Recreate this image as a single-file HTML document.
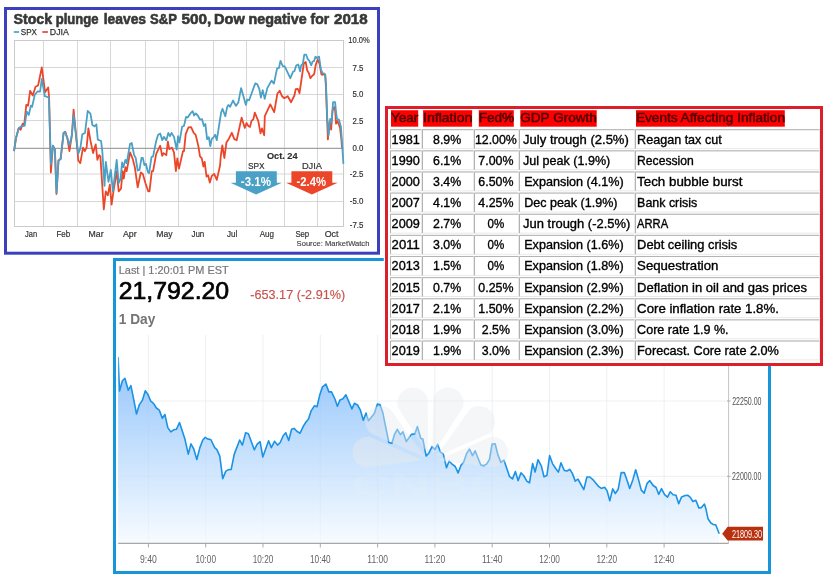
<!DOCTYPE html>
<html lang="en">
<head>
<meta charset="utf-8">
<title>Stock plunge leaves S&amp;P 500, Dow negative for 2018</title>
<style>
html,body{margin:0;padding:0;background:#fff;}
body{width:827px;height:582px;overflow:hidden;font-family:"Liberation Sans",sans-serif;}
svg{display:block;}
</style>
</head>
<body>
<svg width="827" height="582" viewBox="0 0 827 582" font-family="'Liberation Sans', sans-serif">
<g id="cnbc-chart">
<rect x="114.5" y="259.5" width="655" height="313" fill="#fff" stroke="#1696d8" stroke-width="3"/>
<defs><clipPath id="pc"><rect x="118.2" y="330" width="611" height="214"/></clipPath><linearGradient id="ag" x1="0" y1="350" x2="0" y2="543" gradientUnits="userSpaceOnUse"><stop offset="0" stop-color="#8fc2fc"/><stop offset="0.5" stop-color="#c3dffd"/><stop offset="1" stop-color="#f7fbff"/></linearGradient></defs>
<line x1="148.4" y1="335" x2="148.4" y2="543" stroke="#f5f5f5" stroke-width="1"/>
<line x1="205.7" y1="335" x2="205.7" y2="543" stroke="#f5f5f5" stroke-width="1"/>
<line x1="263.0" y1="335" x2="263.0" y2="543" stroke="#f5f5f5" stroke-width="1"/>
<line x1="320.3" y1="335" x2="320.3" y2="543" stroke="#f5f5f5" stroke-width="1"/>
<line x1="377.6" y1="335" x2="377.6" y2="543" stroke="#f5f5f5" stroke-width="1"/>
<line x1="434.9" y1="335" x2="434.9" y2="543" stroke="#f5f5f5" stroke-width="1"/>
<line x1="492.2" y1="335" x2="492.2" y2="543" stroke="#f5f5f5" stroke-width="1"/>
<line x1="549.5" y1="335" x2="549.5" y2="543" stroke="#f5f5f5" stroke-width="1"/>
<line x1="606.8" y1="335" x2="606.8" y2="543" stroke="#f5f5f5" stroke-width="1"/>
<line x1="664.1" y1="335" x2="664.1" y2="543" stroke="#f5f5f5" stroke-width="1"/>
<line x1="118.2" y1="401" x2="728.6" y2="401" stroke="#f5f5f5" stroke-width="1"/>
<line x1="118.2" y1="476.3" x2="728.6" y2="476.3" stroke="#f5f5f5" stroke-width="1"/>
<polygon points="118.1,357.0 119.5,391.0 122.4,380.8 124.9,378.3 128.3,390.2 130.9,385.6 133.4,397.8 136.5,414.0 139.4,404.6 142.3,400.4 145.3,390.7 147.9,394.4 150.8,401.2 153.5,403.3 156.4,408.0 159.3,410.1 162.3,418.2 164.9,414.5 167.8,427.6 170.8,431.9 173.7,429.8 176.4,429.3 179.5,422.5 184.9,439.1 188.3,454.1 190.9,443.9 193.8,449.0 196.8,459.5 199.9,447.6 202.8,440.0 205.3,437.4 207.9,439.1 210.8,439.5 214.7,447.6 216.9,449.7 219.8,456.1 222.7,478.6 225.7,471.4 228.3,469.7 231.2,469.4 234.2,454.4 239.7,440.0 242.4,445.1 245.6,432.7 248.4,433.7 254.3,449.8 257.2,444.2 260.1,441.7 262.8,457.0 268.6,440.8 271.3,447.6 274.5,441.3 277.6,445.1 280.2,442.5 283.2,435.7 285.8,432.7 288.7,440.5 291.6,429.3 294.1,428.4 297.2,431.5 300.1,433.2 303.4,426.2 306.0,422.0 308.5,419.1 311.1,410.9 314.5,405.8 317.0,406.7 319.6,395.6 322.5,386.8 325.9,384.1 328.9,391.9 331.5,391.9 334.9,399.0 337.4,406.3 340.0,399.9 342.9,398.7 345.9,394.8 351.9,408.9 354.4,403.3 357.5,405.0 360.4,410.1 363.3,420.3 366.0,413.1 368.5,420.8 374.3,413.5 377.4,404.1 379.9,404.5 382.8,412.6 388.8,442.4 391.9,443.2 394.4,434.7 397.3,429.3 400.4,434.7 402.9,431.8 406.3,441.5 411.4,434.4 414.8,433.9 417.4,426.6 420.8,438.5 422.8,439.0 426.2,456.0 428.8,453.1 432.0,446.6 434.8,449.5 437.7,444.4 440.5,452.2 443.3,453.9 446.5,467.8 449.1,461.0 452.1,464.1 455.2,466.5 458.1,472.9 461.0,465.3 463.7,461.9 466.6,453.4 469.5,449.1 472.5,455.6 475.1,450.8 480.7,464.8 483.6,465.8 486.6,464.1 489.5,459.3 492.1,444.0 495.1,443.7 498.0,455.1 500.9,462.4 504.0,460.2 506.9,468.7 509.6,476.7 512.5,478.9 515.4,471.6 518.1,480.6 521.0,472.9 523.6,475.5 527.0,481.4 529.5,482.8 532.6,463.6 535.1,472.1 538.0,459.7 541.4,466.1 544.0,476.7 546.9,475.5 549.6,455.6 552.5,463.6 555.9,468.7 558.4,472.1 561.0,462.7 564.3,470.5 567.1,471.0 569.7,469.3 572.2,473.1 575.3,481.1 577.9,479.0 583.8,489.6 586.9,477.0 589.8,477.0 593.2,479.9 598.8,486.7 601.3,488.4 604.6,487.2 607.1,490.9 609.8,500.8 612.7,488.9 615.3,493.5 618.2,489.2 621.2,472.6 624.3,472.6 627.2,480.7 629.7,488.4 632.8,479.9 635.7,469.7 638.6,479.9 641.3,490.1 644.2,493.1 647.1,483.3 649.8,480.7 653.2,485.5 656.1,487.5 658.7,494.3 661.5,488.7 664.6,494.7 667.5,497.2 670.2,491.8 673.1,494.7 676.0,495.2 678.7,503.7 681.6,496.9 685.2,495.5 687.7,495.2 690.3,497.3 692.9,501.5 695.8,500.3 698.9,507.9 701.5,507.6 704.4,504.1 705.8,508.4 708.0,518.7 710.9,523.0 713.5,524.7 715.7,524.7 719.2,533.8 719.2,543.0 118.1,543.0" fill="url(#ag)"/>
<line x1="148.4" y1="335" x2="148.4" y2="543" stroke="#8aa" stroke-opacity="0.06" stroke-width="1"/>
<line x1="205.7" y1="335" x2="205.7" y2="543" stroke="#8aa" stroke-opacity="0.06" stroke-width="1"/>
<line x1="263.0" y1="335" x2="263.0" y2="543" stroke="#8aa" stroke-opacity="0.06" stroke-width="1"/>
<line x1="320.3" y1="335" x2="320.3" y2="543" stroke="#8aa" stroke-opacity="0.06" stroke-width="1"/>
<line x1="377.6" y1="335" x2="377.6" y2="543" stroke="#8aa" stroke-opacity="0.06" stroke-width="1"/>
<line x1="434.9" y1="335" x2="434.9" y2="543" stroke="#8aa" stroke-opacity="0.06" stroke-width="1"/>
<line x1="492.2" y1="335" x2="492.2" y2="543" stroke="#8aa" stroke-opacity="0.06" stroke-width="1"/>
<line x1="549.5" y1="335" x2="549.5" y2="543" stroke="#8aa" stroke-opacity="0.06" stroke-width="1"/>
<line x1="606.8" y1="335" x2="606.8" y2="543" stroke="#8aa" stroke-opacity="0.06" stroke-width="1"/>
<line x1="664.1" y1="335" x2="664.1" y2="543" stroke="#8aa" stroke-opacity="0.06" stroke-width="1"/>
<line x1="118.2" y1="401" x2="728.6" y2="401" stroke="#8aa" stroke-opacity="0.06" stroke-width="1"/>
<line x1="118.2" y1="476.3" x2="728.6" y2="476.3" stroke="#8aa" stroke-opacity="0.06" stroke-width="1"/>
<polyline points="118.1,357.0 119.5,391.0 122.4,380.8 124.9,378.3 128.3,390.2 130.9,385.6 133.4,397.8 136.5,414.0 139.4,404.6 142.3,400.4 145.3,390.7 147.9,394.4 150.8,401.2 153.5,403.3 156.4,408.0 159.3,410.1 162.3,418.2 164.9,414.5 167.8,427.6 170.8,431.9 173.7,429.8 176.4,429.3 179.5,422.5 184.9,439.1 188.3,454.1 190.9,443.9 193.8,449.0 196.8,459.5 199.9,447.6 202.8,440.0 205.3,437.4 207.9,439.1 210.8,439.5 214.7,447.6 216.9,449.7 219.8,456.1 222.7,478.6 225.7,471.4 228.3,469.7 231.2,469.4 234.2,454.4 239.7,440.0 242.4,445.1 245.6,432.7 248.4,433.7 254.3,449.8 257.2,444.2 260.1,441.7 262.8,457.0 268.6,440.8 271.3,447.6 274.5,441.3 277.6,445.1 280.2,442.5 283.2,435.7 285.8,432.7 288.7,440.5 291.6,429.3 294.1,428.4 297.2,431.5 300.1,433.2 303.4,426.2 306.0,422.0 308.5,419.1 311.1,410.9 314.5,405.8 317.0,406.7 319.6,395.6 322.5,386.8 325.9,384.1 328.9,391.9 331.5,391.9 334.9,399.0 337.4,406.3 340.0,399.9 342.9,398.7 345.9,394.8 351.9,408.9 354.4,403.3 357.5,405.0 360.4,410.1 363.3,420.3 366.0,413.1 368.5,420.8 374.3,413.5 377.4,404.1 379.9,404.5 382.8,412.6 388.8,442.4 391.9,443.2 394.4,434.7 397.3,429.3 400.4,434.7 402.9,431.8 406.3,441.5 411.4,434.4 414.8,433.9 417.4,426.6 420.8,438.5 422.8,439.0 426.2,456.0 428.8,453.1 432.0,446.6 434.8,449.5 437.7,444.4 440.5,452.2 443.3,453.9 446.5,467.8 449.1,461.0 452.1,464.1 455.2,466.5 458.1,472.9 461.0,465.3 463.7,461.9 466.6,453.4 469.5,449.1 472.5,455.6 475.1,450.8 480.7,464.8 483.6,465.8 486.6,464.1 489.5,459.3 492.1,444.0 495.1,443.7 498.0,455.1 500.9,462.4 504.0,460.2 506.9,468.7 509.6,476.7 512.5,478.9 515.4,471.6 518.1,480.6 521.0,472.9 523.6,475.5 527.0,481.4 529.5,482.8 532.6,463.6 535.1,472.1 538.0,459.7 541.4,466.1 544.0,476.7 546.9,475.5 549.6,455.6 552.5,463.6 555.9,468.7 558.4,472.1 561.0,462.7 564.3,470.5 567.1,471.0 569.7,469.3 572.2,473.1 575.3,481.1 577.9,479.0 583.8,489.6 586.9,477.0 589.8,477.0 593.2,479.9 598.8,486.7 601.3,488.4 604.6,487.2 607.1,490.9 609.8,500.8 612.7,488.9 615.3,493.5 618.2,489.2 621.2,472.6 624.3,472.6 627.2,480.7 629.7,488.4 632.8,479.9 635.7,469.7 638.6,479.9 641.3,490.1 644.2,493.1 647.1,483.3 649.8,480.7 653.2,485.5 656.1,487.5 658.7,494.3 661.5,488.7 664.6,494.7 667.5,497.2 670.2,491.8 673.1,494.7 676.0,495.2 678.7,503.7 681.6,496.9 685.2,495.5 687.7,495.2 690.3,497.3 692.9,501.5 695.8,500.3 698.9,507.9 701.5,507.6 704.4,504.1 705.8,508.4 708.0,518.7 710.9,523.0 713.5,524.7 715.7,524.7 719.2,533.8" fill="none" stroke="#1a92e5" stroke-width="1.6" stroke-linejoin="round" clip-path="url(#pc)"/>
<g fill="#e9ebee" fill-opacity="0.45"><path d="M428.2,454.8 L427.7,398.6 A15.5,15.5 0 0 0 408.5,388.2 A15.5,15.5 0 0 0 398.0,407.4 Z"/><path d="M432.2,454.8 L462.9,407.7 A15.5,15.5 0 0 0 452.6,388.3 A15.5,15.5 0 0 0 433.2,398.6 Z"/><path d="M435.6,457.1 L489.3,433.6 A15.5,15.5 0 0 0 491.6,411.8 A15.5,15.5 0 0 0 469.8,409.5 Z"/><path d="M437.1,460.5 L494.8,467.5 A15.5,15.5 0 0 0 507.8,449.9 A15.5,15.5 0 0 0 490.2,436.9 Z"/><path d="M424.8,457.1 L390.6,409.5 A15.5,15.5 0 0 0 368.8,411.8 A15.5,15.5 0 0 0 371.1,433.6 Z"/><path d="M423.3,460.5 L370.2,436.9 A15.5,15.5 0 0 0 352.6,449.9 A15.5,15.5 0 0 0 365.6,467.5 Z"/></g>
<text x="429.8" y="496" text-anchor="middle" font-size="32" font-weight="bold" fill="#eef1f4" fill-opacity="0.16" textLength="158" lengthAdjust="spacingAndGlyphs">CNBC</text>
<line x1="118.2" y1="543.4" x2="728.6" y2="543.4" stroke="#a6a6a6" stroke-width="1.1"/>
<line x1="728.6" y1="335" x2="728.6" y2="543.5" stroke="#c4c4c4" stroke-width="1"/>
<line x1="148.4" y1="543" x2="148.4" y2="547.5" stroke="#aaa" stroke-width="1"/>
<line x1="205.7" y1="543" x2="205.7" y2="547.5" stroke="#aaa" stroke-width="1"/>
<line x1="263.0" y1="543" x2="263.0" y2="547.5" stroke="#aaa" stroke-width="1"/>
<line x1="320.3" y1="543" x2="320.3" y2="547.5" stroke="#aaa" stroke-width="1"/>
<line x1="377.6" y1="543" x2="377.6" y2="547.5" stroke="#aaa" stroke-width="1"/>
<line x1="434.9" y1="543" x2="434.9" y2="547.5" stroke="#aaa" stroke-width="1"/>
<line x1="492.2" y1="543" x2="492.2" y2="547.5" stroke="#aaa" stroke-width="1"/>
<line x1="549.5" y1="543" x2="549.5" y2="547.5" stroke="#aaa" stroke-width="1"/>
<line x1="606.8" y1="543" x2="606.8" y2="547.5" stroke="#aaa" stroke-width="1"/>
<line x1="664.1" y1="543" x2="664.1" y2="547.5" stroke="#aaa" stroke-width="1"/>
<line x1="727" y1="401" x2="730.5" y2="401" stroke="#aaa" stroke-width="1"/>
<line x1="727" y1="476.3" x2="730.5" y2="476.3" stroke="#aaa" stroke-width="1"/>
<text x="140.00" y="563.00" font-size="11" fill="#626262" textLength="16.80" lengthAdjust="spacingAndGlyphs">9:40</text>
<text x="195.40" y="563.00" font-size="11" fill="#626262" textLength="20.60" lengthAdjust="spacingAndGlyphs">10:00</text>
<text x="252.70" y="563.00" font-size="11" fill="#626262" textLength="20.60" lengthAdjust="spacingAndGlyphs">10:20</text>
<text x="310.00" y="563.00" font-size="11" fill="#626262" textLength="20.60" lengthAdjust="spacingAndGlyphs">10:40</text>
<text x="367.30" y="563.00" font-size="11" fill="#626262" textLength="20.60" lengthAdjust="spacingAndGlyphs">11:00</text>
<text x="424.60" y="563.00" font-size="11" fill="#626262" textLength="20.60" lengthAdjust="spacingAndGlyphs">11:20</text>
<text x="481.90" y="563.00" font-size="11" fill="#626262" textLength="20.60" lengthAdjust="spacingAndGlyphs">11:40</text>
<text x="539.20" y="563.00" font-size="11" fill="#626262" textLength="20.60" lengthAdjust="spacingAndGlyphs">12:00</text>
<text x="596.50" y="563.00" font-size="11" fill="#626262" textLength="20.60" lengthAdjust="spacingAndGlyphs">12:20</text>
<text x="653.80" y="563.00" font-size="11" fill="#626262" textLength="20.60" lengthAdjust="spacingAndGlyphs">12:40</text>
<text x="732.20" y="404.50" font-size="10.3" fill="#505050" textLength="29.30" lengthAdjust="spacingAndGlyphs">22250.00</text>
<text x="732.10" y="479.60" font-size="10.3" fill="#505050" textLength="29.20" lengthAdjust="spacingAndGlyphs">22000.00</text>
<polygon points="722.2,533.7 727.6,526.8 763,526.8 763,540.5 727.6,540.5" fill="#b9300f"/>
<text x="731.90" y="537.70" font-size="10.3" fill="#fff" textLength="30.20" lengthAdjust="spacingAndGlyphs">21809.30</text>
<text x="118.70" y="274.00" font-size="10.6" fill="#777" textLength="110.09" lengthAdjust="spacingAndGlyphs" stroke="#777" stroke-width="0.2" stroke-linejoin="round">Last | 1:20:01 PM EST</text>
<text x="118.70" y="298.90" font-size="24.3" fill="#000" textLength="110.49" lengthAdjust="spacingAndGlyphs" stroke="#000" stroke-width="0.7" stroke-linejoin="round">21,792.20</text>
<text x="250.30" y="299.10" font-size="13.2" fill="#c8524c" textLength="94.90" lengthAdjust="spacingAndGlyphs" stroke="#c8524c" stroke-width="0.15" stroke-linejoin="round">-653.17 (-2.91%)</text>
<text x="118.70" y="323.90" font-size="14" font-weight="bold" fill="#747474" textLength="36.61" lengthAdjust="spacingAndGlyphs">1 Day</text>
</g>
<g id="marketwatch-chart">
<rect x="5.5" y="8.5" width="373" height="244.7" fill="#fff" stroke="#3a40be" stroke-width="3"/>
<text y="24.10" font-size="14.5" font-weight="bold" fill="#383838" stroke="#383838" stroke-width="0.6" stroke-linejoin="round" xml:space="preserve"><tspan x="13.50" textLength="38.67" lengthAdjust="spacingAndGlyphs">Stock</tspan> <tspan x="55.70" textLength="42.90" lengthAdjust="spacingAndGlyphs">plunge</tspan> <tspan x="103.70" textLength="42.39" lengthAdjust="spacingAndGlyphs">leaves</tspan> <tspan x="150.10" textLength="26.60" lengthAdjust="spacingAndGlyphs">S&amp;P</tspan> <tspan x="181.40" textLength="29.90" lengthAdjust="spacingAndGlyphs">500,</tspan> <tspan x="214.00" textLength="30.77" lengthAdjust="spacingAndGlyphs">Dow</tspan> <tspan x="248.50" textLength="58.30" lengthAdjust="spacingAndGlyphs">negative</tspan> <tspan x="310.50" textLength="18.70" lengthAdjust="spacingAndGlyphs">for</tspan> <tspan x="334.00" textLength="33.59" lengthAdjust="spacingAndGlyphs">2018</tspan></text>
<rect x="13.8" y="31" width="5.3" height="2" fill="#4ba0c6" fill-opacity="0.85"/>
<text x="20.80" y="35.30" font-size="9.3" fill="#333" textLength="16.20" lengthAdjust="spacingAndGlyphs" stroke="#333" stroke-width="0.25" stroke-linejoin="round">SPX</text>
<rect x="42.3" y="31" width="5.6" height="2" fill="#ec462a" fill-opacity="0.85"/>
<text x="49.80" y="35.30" font-size="9.3" fill="#333" textLength="19.10" lengthAdjust="spacingAndGlyphs" stroke="#333" stroke-width="0.25" stroke-linejoin="round">DJIA</text>
<line x1="14.5" y1="40.5" x2="343.5" y2="40.5" stroke="#d0d0d0" stroke-width="0.85"/>
<line x1="14.5" y1="67.5" x2="343.5" y2="67.5" stroke="#d0d0d0" stroke-width="0.85"/>
<line x1="14.5" y1="94.5" x2="343.5" y2="94.5" stroke="#d0d0d0" stroke-width="0.85"/>
<line x1="14.5" y1="120.5" x2="343.5" y2="120.5" stroke="#d0d0d0" stroke-width="0.85"/>
<line x1="14.5" y1="148.5" x2="343.5" y2="148.5" stroke="#d0d0d0" stroke-width="0.85"/>
<line x1="14.5" y1="174.0" x2="343.5" y2="174.0" stroke="#d0d0d0" stroke-width="0.85"/>
<line x1="14.5" y1="201.5" x2="343.5" y2="201.5" stroke="#d0d0d0" stroke-width="0.85"/>
<line x1="14.5" y1="226.5" x2="343.5" y2="226.5" stroke="#d0d0d0" stroke-width="0.85"/>
<line x1="14.5" y1="40.5" x2="14.5" y2="226.5" stroke="#d0d0d0" stroke-width="0.85"/>
<line x1="43.5" y1="40.5" x2="43.5" y2="226.5" stroke="#d0d0d0" stroke-width="0.85"/>
<line x1="77.5" y1="40.5" x2="77.5" y2="226.5" stroke="#d0d0d0" stroke-width="0.85"/>
<line x1="110.5" y1="40.5" x2="110.5" y2="226.5" stroke="#d0d0d0" stroke-width="0.85"/>
<line x1="145.5" y1="40.5" x2="145.5" y2="226.5" stroke="#d0d0d0" stroke-width="0.85"/>
<line x1="178.5" y1="40.5" x2="178.5" y2="226.5" stroke="#d0d0d0" stroke-width="0.85"/>
<line x1="213.5" y1="40.5" x2="213.5" y2="226.5" stroke="#d0d0d0" stroke-width="0.85"/>
<line x1="246.5" y1="40.5" x2="246.5" y2="226.5" stroke="#d0d0d0" stroke-width="0.85"/>
<line x1="284.5" y1="40.5" x2="284.5" y2="226.5" stroke="#d0d0d0" stroke-width="0.85"/>
<line x1="317.5" y1="40.5" x2="317.5" y2="226.5" stroke="#d0d0d0" stroke-width="0.85"/>
<line x1="343.5" y1="40.5" x2="343.5" y2="226.5" stroke="#d0d0d0" stroke-width="0.85"/>
<rect x="14.5" y="40.5" width="329.0" height="186.0" fill="none" stroke="#c8c8c8" stroke-width="0.85"/>
<line x1="14.5" y1="148.4" x2="343.5" y2="148.4" stroke="#a2a2a2" stroke-width="1.2"/>
<text x="348.30" y="42.90" font-size="9" fill="#333" textLength="21.40" lengthAdjust="spacingAndGlyphs" stroke="#333" stroke-width="0.2" stroke-linejoin="round">10.0%</text>
<text x="352.50" y="70.50" font-size="9" fill="#333" textLength="10.90" lengthAdjust="spacingAndGlyphs" stroke="#333" stroke-width="0.2" stroke-linejoin="round">7.5</text>
<text x="352.50" y="97.30" font-size="9" fill="#333" textLength="10.90" lengthAdjust="spacingAndGlyphs" stroke="#333" stroke-width="0.2" stroke-linejoin="round">5.0</text>
<text x="352.50" y="124.00" font-size="9" fill="#333" textLength="10.90" lengthAdjust="spacingAndGlyphs" stroke="#333" stroke-width="0.2" stroke-linejoin="round">2.5</text>
<text x="352.50" y="151.20" font-size="9" fill="#333" textLength="10.90" lengthAdjust="spacingAndGlyphs" stroke="#333" stroke-width="0.2" stroke-linejoin="round">0.0</text>
<text x="349.80" y="177.10" font-size="9" fill="#333" textLength="13.60" lengthAdjust="spacingAndGlyphs" stroke="#333" stroke-width="0.2" stroke-linejoin="round">-2.5</text>
<text x="349.80" y="203.70" font-size="9" fill="#333" textLength="13.60" lengthAdjust="spacingAndGlyphs" stroke="#333" stroke-width="0.2" stroke-linejoin="round">-5.0</text>
<text x="349.80" y="228.30" font-size="9" fill="#333" textLength="13.60" lengthAdjust="spacingAndGlyphs" stroke="#333" stroke-width="0.2" stroke-linejoin="round">-7.5</text>
<text x="25.10" y="237.30" font-size="9.2" fill="#333" textLength="12.00" lengthAdjust="spacingAndGlyphs" stroke="#333" stroke-width="0.2" stroke-linejoin="round">Jan</text>
<text x="56.40" y="237.30" font-size="9.2" fill="#333" textLength="13.80" lengthAdjust="spacingAndGlyphs" stroke="#333" stroke-width="0.2" stroke-linejoin="round">Feb</text>
<text x="88.60" y="237.30" font-size="9.2" fill="#333" textLength="15.00" lengthAdjust="spacingAndGlyphs" stroke="#333" stroke-width="0.2" stroke-linejoin="round">Mar</text>
<text x="122.90" y="237.30" font-size="9.2" fill="#333" textLength="13.80" lengthAdjust="spacingAndGlyphs" stroke="#333" stroke-width="0.2" stroke-linejoin="round">Apr</text>
<text x="156.30" y="237.30" font-size="9.2" fill="#333" textLength="16.30" lengthAdjust="spacingAndGlyphs" stroke="#333" stroke-width="0.2" stroke-linejoin="round">May</text>
<text x="191.40" y="237.30" font-size="9.2" fill="#333" textLength="12.90" lengthAdjust="spacingAndGlyphs" stroke="#333" stroke-width="0.2" stroke-linejoin="round">Jun</text>
<text x="226.90" y="237.30" font-size="9.2" fill="#333" textLength="10.30" lengthAdjust="spacingAndGlyphs" stroke="#333" stroke-width="0.2" stroke-linejoin="round">Jul</text>
<text x="259.70" y="237.30" font-size="9.2" fill="#333" textLength="14.30" lengthAdjust="spacingAndGlyphs" stroke="#333" stroke-width="0.2" stroke-linejoin="round">Aug</text>
<text x="295.40" y="237.30" font-size="9.2" fill="#333" textLength="13.80" lengthAdjust="spacingAndGlyphs" stroke="#333" stroke-width="0.2" stroke-linejoin="round">Sep</text>
<text x="324.70" y="237.30" font-size="9.2" fill="#333" textLength="13.80" lengthAdjust="spacingAndGlyphs" stroke="#333" stroke-width="0.2" stroke-linejoin="round">Oct</text>
<text x="296.60" y="246.00" font-size="7.8" fill="#444" textLength="72.80" lengthAdjust="spacingAndGlyphs" stroke="#444" stroke-width="0.15" stroke-linejoin="round">Source: MarketWatch</text>
<polyline points="14.0,151.1 16.0,138.0 18.7,128.3 20.7,129.7 22.7,123.6 24.1,125.6 26.3,104.9 28.1,105.6 30.1,90.8 32.8,95.5 35.5,86.8 38.1,85.5 41.8,67.4 45.1,92.2 48.2,87.5 49.1,96.8 50.9,172.5 52.9,145.7 54.9,149.7 56.5,194.0 58.5,160.5 60.6,159.1 63.6,133.0 65.2,131.7 67.6,139.0 69.4,151.1 71.9,135.0 73.6,109.6 76.3,138.0 78.3,160.5 80.3,163.1 83.0,147.7 84.8,151.1 86.6,147.7 88.4,128.3 90.4,140.4 93.1,153.1 95.7,144.4 97.4,159.8 99.1,155.1 100.4,156.4 103.8,209.4 105.8,191.3 107.8,195.3 109.8,184.6 111.6,204.7 113.3,192.6 116.7,171.2 118.7,191.3 121.0,188.6 122.7,171.2 123.8,178.5 125.4,167.2 126.7,171.2 130.1,152.4 132.8,159.1 134.8,167.2 137.7,187.3 140.8,172.5 142.8,173.9 145.5,183.2 148.2,191.3 149.5,191.3 151.8,171.2 153.1,171.2 156.2,153.8 160.2,145.7 162.2,155.8 163.6,153.1 166.3,155.1 167.9,141.7 169.2,149.1 171.9,147.7 174.0,152.4 175.9,171.2 177.3,158.4 179.0,168.5 183.0,151.1 184.0,151.1 185.7,134.2 188.4,127.5 191.1,127.2 193.7,132.9 195.7,134.9 198.4,146.3 200.0,156.4 201.8,158.4 203.4,166.5 204.7,161.8 206.5,176.5 208.1,175.2 209.8,182.6 211.8,175.9 214.2,173.9 216.8,179.9 220.0,165.8 220.8,156.0 222.3,145.5 224.4,158.0 226.4,142.6 228.9,138.7 231.8,132.8 234.3,139.2 236.7,140.2 241.6,117.6 244.8,127.9 246.5,123.0 248.5,126.2 250.0,126.9 251.4,121.1 253.4,119.1 254.8,112.7 258.3,121.1 260.5,133.3 261.9,128.4 264.2,135.3 264.8,116.2 270.3,104.4 274.2,112.2 277.4,93.5 279.7,90.8 282.0,96.2 284.4,98.2 287.7,96.2 291.1,102.2 294.4,95.5 295.7,89.2 297.8,88.8 299.5,93.2 303.8,63.5 305.7,62.0 307.2,70.4 308.7,72.8 310.4,78.2 312.3,75.7 314.1,74.3 315.8,64.5 317.7,59.6 319.5,63.5 321.4,74.3 322.9,74.8 324.4,73.8 325.3,74.7 326.0,89.4 327.9,139.4 329.5,122.0 331.1,129.6 332.6,110.0 334.6,107.0 335.3,112.0 336.0,123.7 337.5,121.0 340.0,127.6 341.4,139.4 342.0,148.0" fill="none" stroke="#ec462a" stroke-width="1.8" stroke-linejoin="round"/>
<polyline points="14.0,151.1 16.0,138.0 18.7,128.3 21.4,126.3 24.7,125.6 26.7,111.6 28.8,114.9 30.8,105.6 32.1,106.9 34.8,94.8 37.5,91.5 40.1,91.5 41.8,78.8 44.8,96.2 48.9,97.5 50.9,164.5 52.9,145.7 54.9,149.7 56.5,193.0 58.5,160.5 60.6,159.1 63.6,133.0 65.2,131.7 67.6,139.0 69.6,145.0 71.9,135.0 73.6,114.9 76.3,138.0 78.3,153.8 80.3,148.4 82.3,134.4 85.0,133.0 87.7,110.9 90.4,113.6 92.4,125.0 94.4,126.3 96.4,124.3 97.8,139.7 101.1,141.0 102.4,152.4 104.5,185.9 105.8,161.8 108.5,181.9 110.8,169.8 112.9,191.3 116.7,159.8 118.7,183.2 120.5,179.2 122.1,162.5 123.4,167.2 125.4,159.8 126.7,163.1 130.1,143.7 131.7,143.0 134.1,155.1 135.7,157.8 137.7,170.5 139.5,169.8 141.5,157.8 142.8,157.8 144.4,165.1 145.9,163.8 147.8,171.8 149.1,173.2 151.5,157.1 153.1,156.4 156.2,140.9 158.0,134.9 160.2,133.5 162.3,140.2 163.9,136.9 166.3,140.2 168.3,132.9 170.0,136.2 171.6,132.9 174.0,136.9 176.7,149.6 178.1,136.2 179.4,142.3 182.1,126.8 184.0,125.9 186.1,116.8 187.7,117.5 190.4,113.4 192.7,111.2 194.1,115.5 195.7,113.4 197.8,115.5 200.0,119.6 202.0,119.1 203.9,126.0 205.4,124.0 207.1,139.2 208.8,137.2 210.3,146.0 211.8,138.7 213.2,137.7 215.2,134.8 216.8,140.2 221.1,112.7 222.5,108.8 225.3,116.2 227.2,106.9 228.4,104.9 230.1,106.9 233.0,100.5 235.9,105.9 238.4,102.2 241.1,88.1 245.9,104.9 247.2,99.5 249.1,100.2 255.3,83.4 257.2,84.1 259.3,88.8 260.9,97.5 262.7,90.1 264.7,98.9 267.3,88.1 271.5,80.6 273.9,83.6 277.1,68.4 279.0,67.9 280.5,60.8 282.7,66.0 284.7,66.4 290.3,78.2 293.0,71.8 294.5,70.9 296.2,65.5 298.2,64.5 300.1,71.3 301.1,65.5 302.8,64.0 304.3,54.7 306.2,54.7 307.7,59.1 309.2,60.6 311.3,65.3 312.6,61.5 314.1,61.1 315.5,56.6 316.8,58.1 319.0,56.6 320.9,69.4 322.4,72.8 325.0,74.5 326.0,84.1 327.2,117.0 328.5,135.5 330.2,118.8 331.6,122.0 333.1,102.1 335.1,102.1 336.0,112.0 337.0,118.8 339.0,119.8 340.9,126.7 342.4,148.2 343.4,163.9" fill="none" stroke="#4ba0c6" stroke-width="1.8" stroke-linejoin="round"/>
<polygon points="235.9,171.3 276.8,171.3 276.8,182.7 281.9,182.7 256.1,194.6 230.5,182.7 235.9,182.7" fill="#4ba0c6"/>
<polygon points="291.4,171.3 332.3,171.3 332.3,182.7 337.7,182.7 311.9,194.6 286,182.7 291.4,182.7" fill="#ec462a"/>
<text x="266.90" y="158.50" font-size="9.3" font-weight="bold" fill="#2e2e2e" textLength="30.70" lengthAdjust="spacingAndGlyphs" stroke="#2e2e2e" stroke-width="0.15" stroke-linejoin="round">Oct. 24</text>
<text x="247.90" y="168.80" font-size="9.3" fill="#333" textLength="16.80" lengthAdjust="spacingAndGlyphs" stroke="#333" stroke-width="0.2" stroke-linejoin="round">SPX</text>
<text x="301.90" y="168.80" font-size="9.3" fill="#333" textLength="20.20" lengthAdjust="spacingAndGlyphs" stroke="#333" stroke-width="0.2" stroke-linejoin="round">DJIA</text>
<text x="240.80" y="186.40" font-size="12" font-weight="bold" fill="#fff" textLength="30.20" lengthAdjust="spacingAndGlyphs">-3.1%</text>
<text x="296.50" y="186.40" font-size="12" font-weight="bold" fill="#fff" textLength="29.50" lengthAdjust="spacingAndGlyphs">-2.4%</text>
</g>
<g id="inflation-table">
<rect x="383.8" y="256" width="2" height="8" fill="#fff"/>
<rect x="386.5" y="107.5" width="435" height="257" fill="#fff" stroke="#dc1f2b" stroke-width="3"/>
<rect x="391" y="110.2" width="27.2" height="16.5" fill="#ff0000"/>
<text x="390.90" y="122.40" font-size="13.2" fill="#4c0000" textLength="27.49" lengthAdjust="spacingAndGlyphs" stroke="#4c0000" stroke-width="0.5" stroke-linejoin="round">Year</text>
<rect x="423.1" y="110.2" width="49.0" height="16.5" fill="#ff0000"/>
<text x="423.00" y="122.40" font-size="13.2" fill="#4c0000" textLength="49.31" lengthAdjust="spacingAndGlyphs" stroke="#4c0000" stroke-width="0.5" stroke-linejoin="round">Inflation</text>
<rect x="478.8" y="110.2" width="35.0" height="16.5" fill="#ff0000"/>
<text x="478.70" y="122.40" font-size="13.2" fill="#4c0000" textLength="35.30" lengthAdjust="spacingAndGlyphs" stroke="#4c0000" stroke-width="0.5" stroke-linejoin="round">Fed%</text>
<rect x="520.3" y="110.2" width="76.4" height="16.5" fill="#ff0000"/>
<text x="520.20" y="122.40" font-size="13.2" fill="#4c0000" textLength="76.70" lengthAdjust="spacingAndGlyphs" stroke="#4c0000" stroke-width="0.5" stroke-linejoin="round">GDP Growth</text>
<rect x="636" y="110.2" width="148.8" height="16.5" fill="#ff0000"/>
<text x="635.90" y="122.40" font-size="13.2" fill="#4c0000" textLength="149.10" lengthAdjust="spacingAndGlyphs" stroke="#4c0000" stroke-width="0.5" stroke-linejoin="round">Events Affecting Inflation</text>
<rect x="390.5" y="129.70" width="31.0" height="18.9" fill="#fff" stroke="#e9e9e9" stroke-width="1"/>
<polyline points="390.5,148.60 390.5,129.70 421.5,129.70" fill="none" stroke="#b2b2b2" stroke-width="1"/>
<rect x="422.5" y="129.70" width="51.0" height="18.9" fill="#fff" stroke="#e9e9e9" stroke-width="1"/>
<polyline points="422.5,148.60 422.5,129.70 473.5,129.70" fill="none" stroke="#b2b2b2" stroke-width="1"/>
<rect x="474.5" y="129.70" width="44.0" height="18.9" fill="#fff" stroke="#e9e9e9" stroke-width="1"/>
<polyline points="474.5,148.60 474.5,129.70 518.5,129.70" fill="none" stroke="#b2b2b2" stroke-width="1"/>
<rect x="519.5" y="129.70" width="115.0" height="18.9" fill="#fff" stroke="#e9e9e9" stroke-width="1"/>
<polyline points="519.5,148.60 519.5,129.70 634.5,129.70" fill="none" stroke="#b2b2b2" stroke-width="1"/>
<rect x="635.5" y="129.70" width="184.0" height="18.9" fill="#fff" stroke="#e9e9e9" stroke-width="1"/>
<polyline points="635.5,148.60 635.5,129.70 819.5,129.70" fill="none" stroke="#b2b2b2" stroke-width="1"/>
<text x="391.60" y="143.70" font-size="12.4" fill="#000" textLength="28.20" lengthAdjust="spacingAndGlyphs" stroke="#000" stroke-width="0.35" stroke-linejoin="round">1981</text>
<text x="433.05" y="143.70" font-size="12.4" fill="#000" textLength="28.10" lengthAdjust="spacingAndGlyphs" stroke="#000" stroke-width="0.35" stroke-linejoin="round">8.9%</text>
<text x="474.95" y="143.70" font-size="12.4" fill="#000" textLength="41.90" lengthAdjust="spacingAndGlyphs" stroke="#000" stroke-width="0.35" stroke-linejoin="round">12.00%</text>
<text x="523.10" y="143.70" font-size="12.4" fill="#000" textLength="105.70" lengthAdjust="spacingAndGlyphs" stroke="#000" stroke-width="0.35" stroke-linejoin="round">July trough (2.5%)</text>
<text x="637.10" y="143.70" font-size="12.4" fill="#000" textLength="84.59" lengthAdjust="spacingAndGlyphs" stroke="#000" stroke-width="0.35" stroke-linejoin="round">Reagan tax cut</text>
<rect x="390.5" y="150.83" width="31.0" height="18.9" fill="#fff" stroke="#e9e9e9" stroke-width="1"/>
<polyline points="390.5,169.73 390.5,150.83 421.5,150.83" fill="none" stroke="#b2b2b2" stroke-width="1"/>
<rect x="422.5" y="150.83" width="51.0" height="18.9" fill="#fff" stroke="#e9e9e9" stroke-width="1"/>
<polyline points="422.5,169.73 422.5,150.83 473.5,150.83" fill="none" stroke="#b2b2b2" stroke-width="1"/>
<rect x="474.5" y="150.83" width="44.0" height="18.9" fill="#fff" stroke="#e9e9e9" stroke-width="1"/>
<polyline points="474.5,169.73 474.5,150.83 518.5,150.83" fill="none" stroke="#b2b2b2" stroke-width="1"/>
<rect x="519.5" y="150.83" width="115.0" height="18.9" fill="#fff" stroke="#e9e9e9" stroke-width="1"/>
<polyline points="519.5,169.73 519.5,150.83 634.5,150.83" fill="none" stroke="#b2b2b2" stroke-width="1"/>
<rect x="635.5" y="150.83" width="184.0" height="18.9" fill="#fff" stroke="#e9e9e9" stroke-width="1"/>
<polyline points="635.5,169.73 635.5,150.83 819.5,150.83" fill="none" stroke="#b2b2b2" stroke-width="1"/>
<text x="391.60" y="164.83" font-size="12.4" fill="#000" textLength="28.20" lengthAdjust="spacingAndGlyphs" stroke="#000" stroke-width="0.35" stroke-linejoin="round">1990</text>
<text x="433.05" y="164.83" font-size="12.4" fill="#000" textLength="28.10" lengthAdjust="spacingAndGlyphs" stroke="#000" stroke-width="0.35" stroke-linejoin="round">6.1%</text>
<text x="478.35" y="164.83" font-size="12.4" fill="#000" textLength="35.11" lengthAdjust="spacingAndGlyphs" stroke="#000" stroke-width="0.35" stroke-linejoin="round">7.00%</text>
<text x="523.10" y="164.83" font-size="12.4" fill="#000" textLength="87.20" lengthAdjust="spacingAndGlyphs" stroke="#000" stroke-width="0.35" stroke-linejoin="round">Jul peak (1.9%)</text>
<text x="637.10" y="164.83" font-size="12.4" fill="#000" textLength="56.70" lengthAdjust="spacingAndGlyphs" stroke="#000" stroke-width="0.35" stroke-linejoin="round">Recession</text>
<rect x="390.5" y="171.96" width="31.0" height="18.9" fill="#fff" stroke="#e9e9e9" stroke-width="1"/>
<polyline points="390.5,190.86 390.5,171.96 421.5,171.96" fill="none" stroke="#b2b2b2" stroke-width="1"/>
<rect x="422.5" y="171.96" width="51.0" height="18.9" fill="#fff" stroke="#e9e9e9" stroke-width="1"/>
<polyline points="422.5,190.86 422.5,171.96 473.5,171.96" fill="none" stroke="#b2b2b2" stroke-width="1"/>
<rect x="474.5" y="171.96" width="44.0" height="18.9" fill="#fff" stroke="#e9e9e9" stroke-width="1"/>
<polyline points="474.5,190.86 474.5,171.96 518.5,171.96" fill="none" stroke="#b2b2b2" stroke-width="1"/>
<rect x="519.5" y="171.96" width="115.0" height="18.9" fill="#fff" stroke="#e9e9e9" stroke-width="1"/>
<polyline points="519.5,190.86 519.5,171.96 634.5,171.96" fill="none" stroke="#b2b2b2" stroke-width="1"/>
<rect x="635.5" y="171.96" width="184.0" height="18.9" fill="#fff" stroke="#e9e9e9" stroke-width="1"/>
<polyline points="635.5,190.86 635.5,171.96 819.5,171.96" fill="none" stroke="#b2b2b2" stroke-width="1"/>
<text x="391.60" y="185.96" font-size="12.4" fill="#000" textLength="28.20" lengthAdjust="spacingAndGlyphs" stroke="#000" stroke-width="0.35" stroke-linejoin="round">2000</text>
<text x="433.05" y="185.96" font-size="12.4" fill="#000" textLength="28.10" lengthAdjust="spacingAndGlyphs" stroke="#000" stroke-width="0.35" stroke-linejoin="round">3.4%</text>
<text x="478.35" y="185.96" font-size="12.4" fill="#000" textLength="35.11" lengthAdjust="spacingAndGlyphs" stroke="#000" stroke-width="0.35" stroke-linejoin="round">6.50%</text>
<text x="524.20" y="185.96" font-size="12.4" fill="#000" textLength="99.40" lengthAdjust="spacingAndGlyphs" stroke="#000" stroke-width="0.35" stroke-linejoin="round">Expansion (4.1%)</text>
<text x="637.10" y="185.96" font-size="12.4" fill="#000" textLength="105.30" lengthAdjust="spacingAndGlyphs" stroke="#000" stroke-width="0.35" stroke-linejoin="round">Tech bubble burst</text>
<rect x="390.5" y="193.09" width="31.0" height="18.9" fill="#fff" stroke="#e9e9e9" stroke-width="1"/>
<polyline points="390.5,211.99 390.5,193.09 421.5,193.09" fill="none" stroke="#b2b2b2" stroke-width="1"/>
<rect x="422.5" y="193.09" width="51.0" height="18.9" fill="#fff" stroke="#e9e9e9" stroke-width="1"/>
<polyline points="422.5,211.99 422.5,193.09 473.5,193.09" fill="none" stroke="#b2b2b2" stroke-width="1"/>
<rect x="474.5" y="193.09" width="44.0" height="18.9" fill="#fff" stroke="#e9e9e9" stroke-width="1"/>
<polyline points="474.5,211.99 474.5,193.09 518.5,193.09" fill="none" stroke="#b2b2b2" stroke-width="1"/>
<rect x="519.5" y="193.09" width="115.0" height="18.9" fill="#fff" stroke="#e9e9e9" stroke-width="1"/>
<polyline points="519.5,211.99 519.5,193.09 634.5,193.09" fill="none" stroke="#b2b2b2" stroke-width="1"/>
<rect x="635.5" y="193.09" width="184.0" height="18.9" fill="#fff" stroke="#e9e9e9" stroke-width="1"/>
<polyline points="635.5,211.99 635.5,193.09 819.5,193.09" fill="none" stroke="#b2b2b2" stroke-width="1"/>
<text x="391.60" y="207.09" font-size="12.4" fill="#000" textLength="28.20" lengthAdjust="spacingAndGlyphs" stroke="#000" stroke-width="0.35" stroke-linejoin="round">2007</text>
<text x="433.05" y="207.09" font-size="12.4" fill="#000" textLength="28.10" lengthAdjust="spacingAndGlyphs" stroke="#000" stroke-width="0.35" stroke-linejoin="round">4.1%</text>
<text x="478.35" y="207.09" font-size="12.4" fill="#000" textLength="35.11" lengthAdjust="spacingAndGlyphs" stroke="#000" stroke-width="0.35" stroke-linejoin="round">4.25%</text>
<text x="524.20" y="207.09" font-size="12.4" fill="#000" textLength="93.30" lengthAdjust="spacingAndGlyphs" stroke="#000" stroke-width="0.35" stroke-linejoin="round">Dec peak (1.9%)</text>
<text x="637.10" y="207.09" font-size="12.4" fill="#000" textLength="60.09" lengthAdjust="spacingAndGlyphs" stroke="#000" stroke-width="0.35" stroke-linejoin="round">Bank crisis</text>
<rect x="390.5" y="214.22" width="31.0" height="18.9" fill="#fff" stroke="#e9e9e9" stroke-width="1"/>
<polyline points="390.5,233.12 390.5,214.22 421.5,214.22" fill="none" stroke="#b2b2b2" stroke-width="1"/>
<rect x="422.5" y="214.22" width="51.0" height="18.9" fill="#fff" stroke="#e9e9e9" stroke-width="1"/>
<polyline points="422.5,233.12 422.5,214.22 473.5,214.22" fill="none" stroke="#b2b2b2" stroke-width="1"/>
<rect x="474.5" y="214.22" width="44.0" height="18.9" fill="#fff" stroke="#e9e9e9" stroke-width="1"/>
<polyline points="474.5,233.12 474.5,214.22 518.5,214.22" fill="none" stroke="#b2b2b2" stroke-width="1"/>
<rect x="519.5" y="214.22" width="115.0" height="18.9" fill="#fff" stroke="#e9e9e9" stroke-width="1"/>
<polyline points="519.5,233.12 519.5,214.22 634.5,214.22" fill="none" stroke="#b2b2b2" stroke-width="1"/>
<rect x="635.5" y="214.22" width="184.0" height="18.9" fill="#fff" stroke="#e9e9e9" stroke-width="1"/>
<polyline points="635.5,233.12 635.5,214.22 819.5,214.22" fill="none" stroke="#b2b2b2" stroke-width="1"/>
<text x="391.60" y="228.22" font-size="12.4" fill="#000" textLength="28.20" lengthAdjust="spacingAndGlyphs" stroke="#000" stroke-width="0.35" stroke-linejoin="round">2009</text>
<text x="433.05" y="228.22" font-size="12.4" fill="#000" textLength="28.10" lengthAdjust="spacingAndGlyphs" stroke="#000" stroke-width="0.35" stroke-linejoin="round">2.7%</text>
<text x="487.55" y="228.22" font-size="12.4" fill="#000" textLength="16.70" lengthAdjust="spacingAndGlyphs" stroke="#000" stroke-width="0.35" stroke-linejoin="round">0%</text>
<text x="523.10" y="228.22" font-size="12.4" fill="#000" textLength="107.20" lengthAdjust="spacingAndGlyphs" stroke="#000" stroke-width="0.35" stroke-linejoin="round">Jun trough (-2.5%)</text>
<text x="637.10" y="228.22" font-size="12.4" fill="#000" textLength="31.00" lengthAdjust="spacingAndGlyphs" stroke="#000" stroke-width="0.35" stroke-linejoin="round">ARRA</text>
<rect x="390.5" y="235.35" width="31.0" height="18.9" fill="#fff" stroke="#e9e9e9" stroke-width="1"/>
<polyline points="390.5,254.25 390.5,235.35 421.5,235.35" fill="none" stroke="#b2b2b2" stroke-width="1"/>
<rect x="422.5" y="235.35" width="51.0" height="18.9" fill="#fff" stroke="#e9e9e9" stroke-width="1"/>
<polyline points="422.5,254.25 422.5,235.35 473.5,235.35" fill="none" stroke="#b2b2b2" stroke-width="1"/>
<rect x="474.5" y="235.35" width="44.0" height="18.9" fill="#fff" stroke="#e9e9e9" stroke-width="1"/>
<polyline points="474.5,254.25 474.5,235.35 518.5,235.35" fill="none" stroke="#b2b2b2" stroke-width="1"/>
<rect x="519.5" y="235.35" width="115.0" height="18.9" fill="#fff" stroke="#e9e9e9" stroke-width="1"/>
<polyline points="519.5,254.25 519.5,235.35 634.5,235.35" fill="none" stroke="#b2b2b2" stroke-width="1"/>
<rect x="635.5" y="235.35" width="184.0" height="18.9" fill="#fff" stroke="#e9e9e9" stroke-width="1"/>
<polyline points="635.5,254.25 635.5,235.35 819.5,235.35" fill="none" stroke="#b2b2b2" stroke-width="1"/>
<text x="391.60" y="249.35" font-size="12.4" fill="#000" textLength="28.21" lengthAdjust="spacingAndGlyphs" stroke="#000" stroke-width="0.35" stroke-linejoin="round">2011</text>
<text x="433.05" y="249.35" font-size="12.4" fill="#000" textLength="28.10" lengthAdjust="spacingAndGlyphs" stroke="#000" stroke-width="0.35" stroke-linejoin="round">3.0%</text>
<text x="487.55" y="249.35" font-size="12.4" fill="#000" textLength="16.70" lengthAdjust="spacingAndGlyphs" stroke="#000" stroke-width="0.35" stroke-linejoin="round">0%</text>
<text x="524.20" y="249.35" font-size="12.4" fill="#000" textLength="99.40" lengthAdjust="spacingAndGlyphs" stroke="#000" stroke-width="0.35" stroke-linejoin="round">Expansion (1.6%)</text>
<text x="637.10" y="249.35" font-size="12.4" fill="#000" textLength="100.20" lengthAdjust="spacingAndGlyphs" stroke="#000" stroke-width="0.35" stroke-linejoin="round">Debt ceiling crisis</text>
<rect x="390.5" y="256.48" width="31.0" height="18.9" fill="#fff" stroke="#e9e9e9" stroke-width="1"/>
<polyline points="390.5,275.38 390.5,256.48 421.5,256.48" fill="none" stroke="#b2b2b2" stroke-width="1"/>
<rect x="422.5" y="256.48" width="51.0" height="18.9" fill="#fff" stroke="#e9e9e9" stroke-width="1"/>
<polyline points="422.5,275.38 422.5,256.48 473.5,256.48" fill="none" stroke="#b2b2b2" stroke-width="1"/>
<rect x="474.5" y="256.48" width="44.0" height="18.9" fill="#fff" stroke="#e9e9e9" stroke-width="1"/>
<polyline points="474.5,275.38 474.5,256.48 518.5,256.48" fill="none" stroke="#b2b2b2" stroke-width="1"/>
<rect x="519.5" y="256.48" width="115.0" height="18.9" fill="#fff" stroke="#e9e9e9" stroke-width="1"/>
<polyline points="519.5,275.38 519.5,256.48 634.5,256.48" fill="none" stroke="#b2b2b2" stroke-width="1"/>
<rect x="635.5" y="256.48" width="184.0" height="18.9" fill="#fff" stroke="#e9e9e9" stroke-width="1"/>
<polyline points="635.5,275.38 635.5,256.48 819.5,256.48" fill="none" stroke="#b2b2b2" stroke-width="1"/>
<text x="391.60" y="270.48" font-size="12.4" fill="#000" textLength="28.20" lengthAdjust="spacingAndGlyphs" stroke="#000" stroke-width="0.35" stroke-linejoin="round">2013</text>
<text x="433.05" y="270.48" font-size="12.4" fill="#000" textLength="28.10" lengthAdjust="spacingAndGlyphs" stroke="#000" stroke-width="0.35" stroke-linejoin="round">1.5%</text>
<text x="487.55" y="270.48" font-size="12.4" fill="#000" textLength="16.70" lengthAdjust="spacingAndGlyphs" stroke="#000" stroke-width="0.35" stroke-linejoin="round">0%</text>
<text x="524.20" y="270.48" font-size="12.4" fill="#000" textLength="99.40" lengthAdjust="spacingAndGlyphs" stroke="#000" stroke-width="0.35" stroke-linejoin="round">Expansion (1.8%)</text>
<text x="637.10" y="270.48" font-size="12.4" fill="#000" textLength="81.30" lengthAdjust="spacingAndGlyphs" stroke="#000" stroke-width="0.35" stroke-linejoin="round">Sequestration</text>
<rect x="390.5" y="277.61" width="31.0" height="18.9" fill="#fff" stroke="#e9e9e9" stroke-width="1"/>
<polyline points="390.5,296.51 390.5,277.61 421.5,277.61" fill="none" stroke="#b2b2b2" stroke-width="1"/>
<rect x="422.5" y="277.61" width="51.0" height="18.9" fill="#fff" stroke="#e9e9e9" stroke-width="1"/>
<polyline points="422.5,296.51 422.5,277.61 473.5,277.61" fill="none" stroke="#b2b2b2" stroke-width="1"/>
<rect x="474.5" y="277.61" width="44.0" height="18.9" fill="#fff" stroke="#e9e9e9" stroke-width="1"/>
<polyline points="474.5,296.51 474.5,277.61 518.5,277.61" fill="none" stroke="#b2b2b2" stroke-width="1"/>
<rect x="519.5" y="277.61" width="115.0" height="18.9" fill="#fff" stroke="#e9e9e9" stroke-width="1"/>
<polyline points="519.5,296.51 519.5,277.61 634.5,277.61" fill="none" stroke="#b2b2b2" stroke-width="1"/>
<rect x="635.5" y="277.61" width="184.0" height="18.9" fill="#fff" stroke="#e9e9e9" stroke-width="1"/>
<polyline points="635.5,296.51 635.5,277.61 819.5,277.61" fill="none" stroke="#b2b2b2" stroke-width="1"/>
<text x="391.60" y="291.61" font-size="12.4" fill="#000" textLength="28.20" lengthAdjust="spacingAndGlyphs" stroke="#000" stroke-width="0.35" stroke-linejoin="round">2015</text>
<text x="433.05" y="291.61" font-size="12.4" fill="#000" textLength="28.10" lengthAdjust="spacingAndGlyphs" stroke="#000" stroke-width="0.35" stroke-linejoin="round">0.7%</text>
<text x="478.35" y="291.61" font-size="12.4" fill="#000" textLength="35.11" lengthAdjust="spacingAndGlyphs" stroke="#000" stroke-width="0.35" stroke-linejoin="round">0.25%</text>
<text x="524.20" y="291.61" font-size="12.4" fill="#000" textLength="99.40" lengthAdjust="spacingAndGlyphs" stroke="#000" stroke-width="0.35" stroke-linejoin="round">Expansion (2.9%)</text>
<text x="637.10" y="291.61" font-size="12.4" fill="#000" textLength="169.90" lengthAdjust="spacingAndGlyphs" stroke="#000" stroke-width="0.35" stroke-linejoin="round">Deflation in oil and gas prices</text>
<rect x="390.5" y="298.74" width="31.0" height="18.9" fill="#fff" stroke="#e9e9e9" stroke-width="1"/>
<polyline points="390.5,317.64 390.5,298.74 421.5,298.74" fill="none" stroke="#b2b2b2" stroke-width="1"/>
<rect x="422.5" y="298.74" width="51.0" height="18.9" fill="#fff" stroke="#e9e9e9" stroke-width="1"/>
<polyline points="422.5,317.64 422.5,298.74 473.5,298.74" fill="none" stroke="#b2b2b2" stroke-width="1"/>
<rect x="474.5" y="298.74" width="44.0" height="18.9" fill="#fff" stroke="#e9e9e9" stroke-width="1"/>
<polyline points="474.5,317.64 474.5,298.74 518.5,298.74" fill="none" stroke="#b2b2b2" stroke-width="1"/>
<rect x="519.5" y="298.74" width="115.0" height="18.9" fill="#fff" stroke="#e9e9e9" stroke-width="1"/>
<polyline points="519.5,317.64 519.5,298.74 634.5,298.74" fill="none" stroke="#b2b2b2" stroke-width="1"/>
<rect x="635.5" y="298.74" width="184.0" height="18.9" fill="#fff" stroke="#e9e9e9" stroke-width="1"/>
<polyline points="635.5,317.64 635.5,298.74 819.5,298.74" fill="none" stroke="#b2b2b2" stroke-width="1"/>
<text x="391.60" y="312.74" font-size="12.4" fill="#000" textLength="28.20" lengthAdjust="spacingAndGlyphs" stroke="#000" stroke-width="0.35" stroke-linejoin="round">2017</text>
<text x="433.05" y="312.74" font-size="12.4" fill="#000" textLength="28.10" lengthAdjust="spacingAndGlyphs" stroke="#000" stroke-width="0.35" stroke-linejoin="round">2.1%</text>
<text x="478.35" y="312.74" font-size="12.4" fill="#000" textLength="35.11" lengthAdjust="spacingAndGlyphs" stroke="#000" stroke-width="0.35" stroke-linejoin="round">1.50%</text>
<text x="524.20" y="312.74" font-size="12.4" fill="#000" textLength="99.40" lengthAdjust="spacingAndGlyphs" stroke="#000" stroke-width="0.35" stroke-linejoin="round">Expansion (2.2%)</text>
<text x="637.10" y="312.74" font-size="12.4" fill="#000" textLength="141.80" lengthAdjust="spacingAndGlyphs" stroke="#000" stroke-width="0.35" stroke-linejoin="round">Core inflation rate 1.8%.</text>
<rect x="390.5" y="319.87" width="31.0" height="18.9" fill="#fff" stroke="#e9e9e9" stroke-width="1"/>
<polyline points="390.5,338.77 390.5,319.87 421.5,319.87" fill="none" stroke="#b2b2b2" stroke-width="1"/>
<rect x="422.5" y="319.87" width="51.0" height="18.9" fill="#fff" stroke="#e9e9e9" stroke-width="1"/>
<polyline points="422.5,338.77 422.5,319.87 473.5,319.87" fill="none" stroke="#b2b2b2" stroke-width="1"/>
<rect x="474.5" y="319.87" width="44.0" height="18.9" fill="#fff" stroke="#e9e9e9" stroke-width="1"/>
<polyline points="474.5,338.77 474.5,319.87 518.5,319.87" fill="none" stroke="#b2b2b2" stroke-width="1"/>
<rect x="519.5" y="319.87" width="115.0" height="18.9" fill="#fff" stroke="#e9e9e9" stroke-width="1"/>
<polyline points="519.5,338.77 519.5,319.87 634.5,319.87" fill="none" stroke="#b2b2b2" stroke-width="1"/>
<rect x="635.5" y="319.87" width="184.0" height="18.9" fill="#fff" stroke="#e9e9e9" stroke-width="1"/>
<polyline points="635.5,338.77 635.5,319.87 819.5,319.87" fill="none" stroke="#b2b2b2" stroke-width="1"/>
<text x="391.60" y="333.87" font-size="12.4" fill="#000" textLength="28.20" lengthAdjust="spacingAndGlyphs" stroke="#000" stroke-width="0.35" stroke-linejoin="round">2018</text>
<text x="433.05" y="333.87" font-size="12.4" fill="#000" textLength="28.10" lengthAdjust="spacingAndGlyphs" stroke="#000" stroke-width="0.35" stroke-linejoin="round">1.9%</text>
<text x="481.80" y="333.87" font-size="12.4" fill="#000" textLength="28.20" lengthAdjust="spacingAndGlyphs" stroke="#000" stroke-width="0.35" stroke-linejoin="round">2.5%</text>
<text x="524.20" y="333.87" font-size="12.4" fill="#000" textLength="99.40" lengthAdjust="spacingAndGlyphs" stroke="#000" stroke-width="0.35" stroke-linejoin="round">Expansion (3.0%)</text>
<text x="637.10" y="333.87" font-size="12.4" fill="#000" textLength="91.50" lengthAdjust="spacingAndGlyphs" stroke="#000" stroke-width="0.35" stroke-linejoin="round">Core rate 1.9 %.</text>
<rect x="390.5" y="341.00" width="31.0" height="18.9" fill="#fff" stroke="#e9e9e9" stroke-width="1"/>
<polyline points="390.5,359.90 390.5,341.00 421.5,341.00" fill="none" stroke="#b2b2b2" stroke-width="1"/>
<rect x="422.5" y="341.00" width="51.0" height="18.9" fill="#fff" stroke="#e9e9e9" stroke-width="1"/>
<polyline points="422.5,359.90 422.5,341.00 473.5,341.00" fill="none" stroke="#b2b2b2" stroke-width="1"/>
<rect x="474.5" y="341.00" width="44.0" height="18.9" fill="#fff" stroke="#e9e9e9" stroke-width="1"/>
<polyline points="474.5,359.90 474.5,341.00 518.5,341.00" fill="none" stroke="#b2b2b2" stroke-width="1"/>
<rect x="519.5" y="341.00" width="115.0" height="18.9" fill="#fff" stroke="#e9e9e9" stroke-width="1"/>
<polyline points="519.5,359.90 519.5,341.00 634.5,341.00" fill="none" stroke="#b2b2b2" stroke-width="1"/>
<rect x="635.5" y="341.00" width="184.0" height="18.9" fill="#fff" stroke="#e9e9e9" stroke-width="1"/>
<polyline points="635.5,359.90 635.5,341.00 819.5,341.00" fill="none" stroke="#b2b2b2" stroke-width="1"/>
<text x="391.60" y="355.00" font-size="12.4" fill="#000" textLength="28.20" lengthAdjust="spacingAndGlyphs" stroke="#000" stroke-width="0.35" stroke-linejoin="round">2019</text>
<text x="433.05" y="355.00" font-size="12.4" fill="#000" textLength="28.10" lengthAdjust="spacingAndGlyphs" stroke="#000" stroke-width="0.35" stroke-linejoin="round">1.9%</text>
<text x="481.80" y="355.00" font-size="12.4" fill="#000" textLength="28.20" lengthAdjust="spacingAndGlyphs" stroke="#000" stroke-width="0.35" stroke-linejoin="round">3.0%</text>
<text x="524.20" y="355.00" font-size="12.4" fill="#000" textLength="99.40" lengthAdjust="spacingAndGlyphs" stroke="#000" stroke-width="0.35" stroke-linejoin="round">Expansion (2.3%)</text>
<text x="637.10" y="355.00" font-size="12.4" fill="#000" textLength="141.81" lengthAdjust="spacingAndGlyphs" stroke="#000" stroke-width="0.35" stroke-linejoin="round">Forecast. Core rate 2.0%</text>
</g>
</svg>
</body>
</html>
